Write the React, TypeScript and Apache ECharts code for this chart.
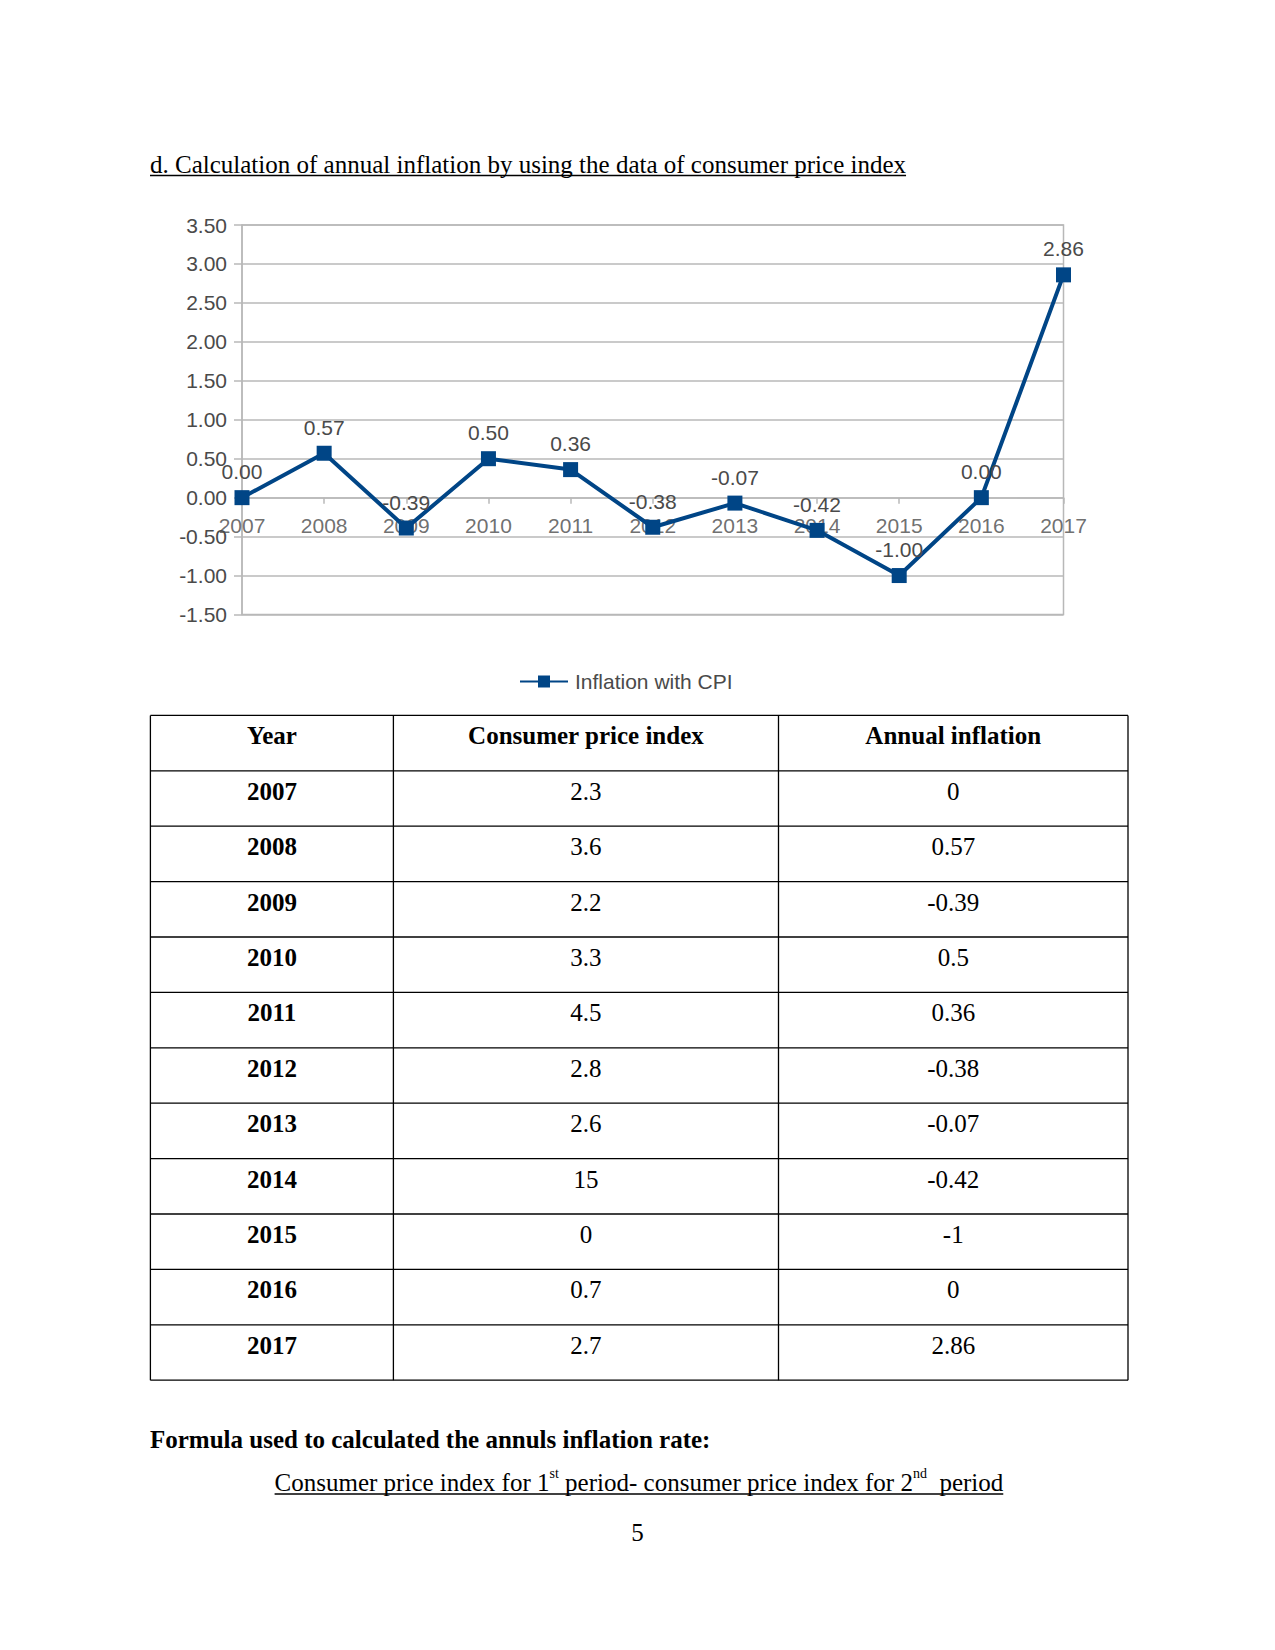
import React, { useEffect, useRef } from "react";
import * as echarts from "echarts";

const years = ["2007", "2008", "2009", "2010", "2011", "2012", "2013", "2014", "2015", "2016", "2017"];
const inflation = [0, 0.57, -0.39, 0.5, 0.36, -0.38, -0.07, -0.42, -1, 0, 2.86];
const cpi = [2.3, 3.6, 2.2, 3.3, 4.5, 2.8, 2.6, 15, 0, 0.7, 2.7];
const zeroLine = [0, 0, 0, 0, 0, 0, 0, 0, 0, 0, 0];
const tableHeaders = ["Year", "Consumer price index", "Annual inflation"];
const seriesName = "Inflation with CPI";
const titleText = "d. Calculation of annual inflation by using the data of consumer price index";
const formulaHeading = "Formula used to calculated the annuls inflation rate:";
const formulaParts = [
  { t: "Consumer price index for 1", sup: false },
  { t: "st", sup: true },
  { t: " period- consumer price index for 2", sup: false },
  { t: "nd", sup: true },
  { t: "  period", sup: false },
];
const pageNumber = "5";

const SERIF = '"Liberation Serif", "Times New Roman", serif';
const SANS = '"Liberation Sans", Arial, sans-serif';
const CHART_FONT = 21;

function textWidth(text: string, font: string): number {
  const ctx = document.createElement("canvas").getContext("2d");
  if (!ctx) return text.length * 10;
  ctx.font = font;
  return ctx.measureText(text).width;
}

function txt(text: string, x: number, y: number, font: string, align: string = "left", fill = "#000") {
  return {
    type: "text",
    silent: true,
    style: {
      text,
      x,
      y,
      font,
      fill,
      align,
      verticalAlign: "middle",
      textAlign: align,
      textVerticalAlign: "middle",
    },
  };
}

function line(x1: number, y1: number, x2: number, y2: number, w = 1.3) {
  return {
    type: "line",
    silent: true,
    shape: { x1, y1, x2, y2 },
    style: { stroke: "#000", lineWidth: w },
  };
}

function buildGraphics() {
  const g: any[] = [];
  // Title
  const titleFont = `25px ${SERIF}`;
  g.push(txt(titleText, 150, 164, titleFont));
  const tw = textWidth(titleText, titleFont);
  g.push(line(150, 175.5, 150 + tw, 175.5, 1.3));

  // Table
  const colX = [150.4, 393.4, 778.5, 1128];
  const top = 715.4;
  const rowH = 55.4;
  const nRows = years.length + 1;
  for (let r = 0; r <= nRows; r++) {
    const y = top + r * rowH;
    g.push(line(colX[0], y, colX[3], y));
  }
  for (let c = 0; c < colX.length; c++) {
    g.push(line(colX[c], top, colX[c], top + nRows * rowH));
  }
  const bold = `bold 25px ${SERIF}`;
  const reg = `25px ${SERIF}`;
  const centers = [0, 1, 2].map((i) => (colX[i] + colX[i + 1]) / 2);
  tableHeaders.forEach((h, i) => g.push(txt(h, centers[i], top + 20.5, bold, "center")));
  years.forEach((yr, i) => {
    const yy = top + (i + 1) * rowH + 20.5;
    g.push(txt(yr, centers[0], yy, bold, "center"));
    g.push(txt(String(cpi[i]), centers[1], yy, reg, "center"));
    g.push(txt(String(inflation[i]), centers[2], yy, reg, "center"));
  });

  // Formula heading
  g.push(txt(formulaHeading, 150, 1439, bold));

  // Formula numerator with superscripts
  const supFont = `14px ${SERIF}`;
  let x = 274.6;
  const baseY = 1482;
  formulaParts.forEach((p) => {
    const f = p.sup ? supFont : reg;
    g.push(txt(p.t, x, p.sup ? baseY - 9 : baseY, f));
    x += textWidth(p.t, f);
  });
  g.push(line(274.6, 1494, x, 1494, 1.3));

  // Page number
  g.push(txt(pageNumber, 637.5, 1532, reg, "center"));
  return g;
}

export default function App() {
  const ref = useRef<HTMLDivElement>(null);
  useEffect(() => {
    if (!ref.current) return;
    const chart = echarts.init(ref.current, null, { renderer: "svg" });
    const gridColor = "#b8b8b8";
    const labelColor = "#4a4a4a";
    chart.setOption({
      animation: false,
      backgroundColor: "#ffffff",
      grid: {
        left: 242,
        top: 225,
        width: 821.5,
        height: 389.5,
        show: true,
        borderColor: gridColor,
        borderWidth: 1.5,
        backgroundColor: "transparent",
      },
      legend: {
        left: 519,
        top: 671,
        padding: 0,
        itemWidth: 48,
        itemHeight: 15,
        itemGap: 10,
        textStyle: { fontSize: CHART_FONT, color: labelColor, fontFamily: SANS, padding: [0, 0, 0, 2] },
        data: [seriesName],
      },
      xAxis: {
        type: "category",
        data: years,
        boundaryGap: false,
        axisLine: { show: true, onZero: true, lineStyle: { color: gridColor, width: 1.5 } },
        axisTick: { show: true, length: 6, lineStyle: { color: gridColor, width: 1.5 } },
        axisLabel: { show: false },
        splitLine: { show: false },
      },
      yAxis: {
        type: "value",
        min: -1.5,
        max: 3.5,
        interval: 0.5,
        axisLine: { show: true, lineStyle: { color: gridColor, width: 1.5 } },
        axisTick: { show: true, length: 8, lineStyle: { color: gridColor, width: 1.5 } },
        axisLabel: {
          margin: 15,
          color: labelColor,
          fontSize: CHART_FONT,
          fontFamily: SANS,
          formatter: (v: number) => v.toFixed(2),
        },
        splitLine: { show: true, lineStyle: { color: gridColor, width: 1.5 } },
      },
      series: [
        {
          type: "scatter",
          name: "axis-labels",
          data: zeroLine,
          symbolSize: 0,
          silent: true,
          z: 1,
          label: {
            show: true,
            position: "bottom",
            distance: 17,
            color: labelColor,
            fontSize: CHART_FONT,
            fontFamily: SANS,
            formatter: (p: any) => years[p.dataIndex],
          },
        },
        {
          type: "line",
          name: seriesName,
          data: inflation,
          symbol: "rect",
          symbolSize: 15,
          z: 3,
          lineStyle: { color: "#004586", width: 4 },
          itemStyle: { color: "#004586" },
          label: {
            show: true,
            position: "top",
            distance: 8,
            color: labelColor,
            fontSize: CHART_FONT,
            fontFamily: SANS,
            formatter: (p: any) => Number(p.value).toFixed(2),
          },
        },
      ],
      graphic: buildGraphics(),
    });
    return () => chart.dispose();
  }, []);
  return (
    <div style={{ position: "absolute", left: 0, top: 0, width: 1275, height: 1650, background: "#fff" }}>
      <div ref={ref} style={{ width: 1275, height: 1650 }} />
    </div>
  );
}
